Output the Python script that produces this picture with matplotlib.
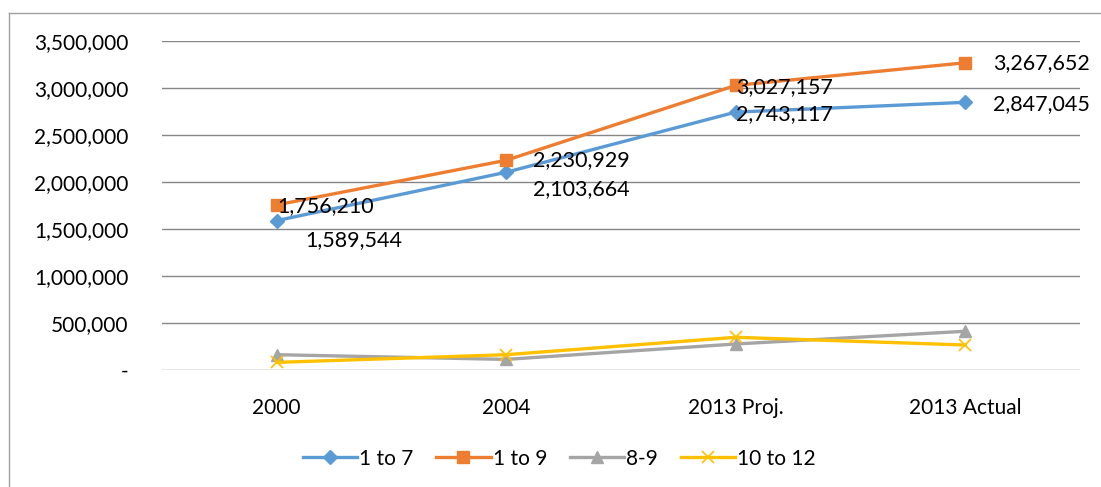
import matplotlib.pyplot as plt
from matplotlib.lines import Line2D
from matplotlib.ticker import FuncFormatter

plt.rcParams['font.family'] = ['Lato', 'DejaVu Sans']

categories = ['2000', '2004', '2013 Proj.', '2013 Actual']
one_to_seven = [1589544, 2103664, 2743117, 2847045]
one_to_nine = [1756210, 2230929, 3027157, 3267652]
eight_nine = [164000, 114000, 278000, 413000]
ten_to_twelve = [82000, 164000, 349000, 267000]

# label offsets in pixels (dx, dy) from each point, per series
offsets_17 = [(29, -19), (27, -17), (0, -2), (28, -2)]
offsets_19 = [(1, -1), (27, 0), (0, -2), (28, 0)]

fig = plt.figure(figsize=(11.01, 4.87), dpi=100)
ax = fig.add_axes([0.147, 0.240, 0.834, 0.676])

x = range(len(categories))
ax.plot(x, one_to_seven, color='#5B9BD5', lw=2.4, marker='D', ms=7, label='1 to 7')
ax.plot(x, one_to_nine, color='#ED7D31', lw=2.4, marker='s', ms=8, label='1 to 9')
ax.plot(x, eight_nine, color='#A5A5A5', lw=2.4, marker='^', ms=8, label='8-9')
ax.plot(x, ten_to_twelve, color='#FFC000', lw=2.4, marker='x', ms=8, mew=1.2, label='10 to 12')

for i, v in enumerate(one_to_seven):
    ax.annotate(f'{v:,}', (i, v), xytext=offsets_17[i], textcoords='offset pixels',
                ha='left', va='center', fontsize=15.5)
for i, v in enumerate(one_to_nine):
    ax.annotate(f'{v:,}', (i, v), xytext=offsets_19[i], textcoords='offset pixels',
                ha='left', va='center', fontsize=15.5)

ax.set_xlim(-0.5, 3.5)
ax.set_ylim(0, 3500000)
ax.set_yticks(range(0, 3500001, 500000))
ax.yaxis.set_major_formatter(FuncFormatter(lambda v, p: '-' if v == 0 else f'{int(v):,}'))
ax.set_xticks(list(x))
ax.set_xticklabels(categories)
ax.tick_params(length=0, labelsize=15, colors='black')
ax.tick_params(axis='y', pad=24)
ax.tick_params(axis='x', pad=20)
ax.grid(axis='y', color='#868686', lw=1)
ax.set_axisbelow(True)
for s in ax.spines.values():
    s.set_visible(False)

handles = [Line2D([], [], color=l.get_color(), lw=2.4, marker=l.get_marker(),
                  ms=l.get_markersize(), mew=l.get_markeredgewidth()) for l in ax.get_lines()]
fig.legend(handles, [l.get_label() for l in ax.get_lines()], loc='center',
           bbox_to_anchor=(0.508, 0.058), ncol=4, frameon=False, fontsize=15,
           handlelength=2.6, handletextpad=0.1, columnspacing=1.1)

fig.add_artist(Line2D([9 / 1101, 9 / 1101], [0, 1 - 13 / 487], color='#A0A0A0', lw=1))
fig.add_artist(Line2D([9 / 1101, 1], [1 - 13 / 487, 1 - 13 / 487], color='#A0A0A0', lw=1))

fig.savefig('out.png', dpi=100)
